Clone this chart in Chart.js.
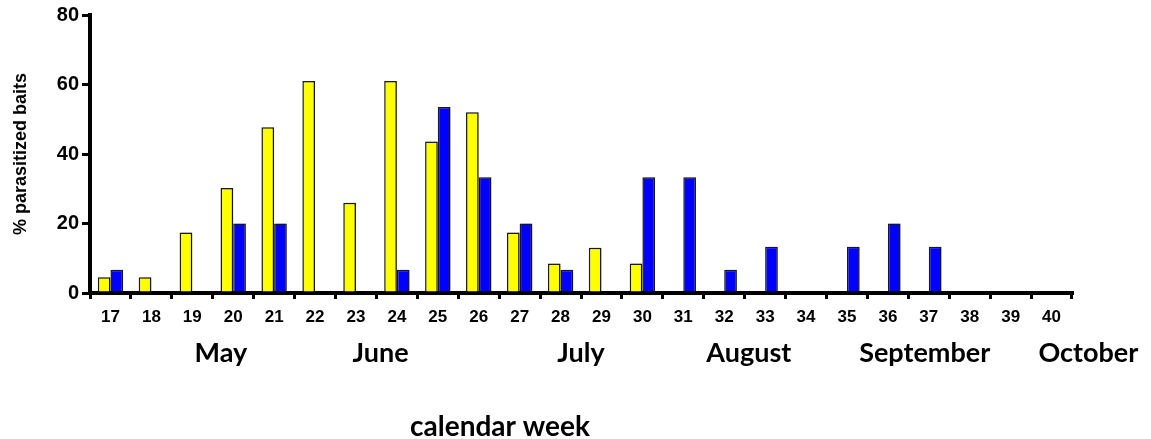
<!DOCTYPE html>
<html>
<head>
<meta charset="utf-8">
<script src="https://cdn.jsdelivr.net/npm/chart.js@4.4.1/dist/chart.umd.min.js"></script>
<style>
  html, body { margin: 0; padding: 0; background: #fff; }
  #wrap { width: 1151px; height: 439px; position: relative; }
</style>
</head>
<body>
<div id="wrap"><canvas id="myChart"></canvas></div>
<script>
// calendar weeks on the x axis
const weeks = ['17','18','19','20','21','22','23','24','25','26','27','28','29','30','31','32','33','34','35','36','37','38','39','40']

// % parasitized baits, yellow series
const yellowValues = [4.5, 4.5, 17.4, 30.2, 47.7, 61, 26, 61, 43.6, 52, 17.4, 8.5, 13, 8.5, 0, 0, 0, 0, 0, 0, 0, 0, 0, 0]
// % parasitized baits, blue series
const blueValues = [6.7, 0, 0, 20, 20, 0, 0, 6.7, 53.5, 33.3, 20, 6.7, 0, 33.3, 33.3, 6.7, 13.3, 0, 13.3, 20, 13.3, 0, 0, 0]

const yTicks = [0, 20, 40, 60, 80]

// month names and the (fractional) week index they sit under
const months = ['May', 'June', 'July', 'August', 'September', 'October']
const monthAt = [2.7, 6.6, 11.5, 15.6, 19.9, 23.9]

// soft grey shadow to the right of the bars
const barShadow = {
  id: 'barShadow',
  beforeDatasetsDraw(chart) {
    const c = chart.ctx
    c.save()
    c.shadowColor = 'rgba(0,0,0,0.3)'
    c.shadowBlur = 3
    c.shadowOffsetX = 2
    c.shadowOffsetY = 0
  },
  afterDatasetsDraw(chart) {
    chart.ctx.restore()
  }
}

const monthLabels = {
  id: 'monthLabels',
  afterDraw(chart) {
    const c = chart.ctx
    const xs = chart.scales.x
    c.save()
    c.fillStyle = '#000'
    c.textAlign = 'center'
    c.textBaseline = 'middle'
    c.font = 'bold 27px Lato, "Open Sans", sans-serif'
    months.forEach((m, i) => {
      c.fillText(m, xs.getPixelForValue(monthAt[i]), 353)
    })
    c.font = 'bold 28px Lato, "Open Sans", sans-serif'
    c.fillText('calendar week', 500, 427)
    c.restore()
  }
}

const ctx = document.getElementById('myChart')
const myChart = new Chart(ctx, {
  type: 'bar',
  data: {
    labels: weeks,
    datasets: [{
      label: 'yellow',
      data: yellowValues,
      backgroundColor: '#ffff00',
      borderColor: '#1a1a1a',
      borderWidth: 1.5,
      borderSkipped: 'bottom'
    }, {
      label: 'blue',
      data: blueValues,
      backgroundColor: '#0000ff',
      borderColor: '#1a1a1a',
      borderWidth: 1.5,
      borderSkipped: 'bottom'
    }]
  },
  options: {
    responsive: true,
    maintainAspectRatio: false,
    animation: false,
    layout: { padding: { left: 0, right: 79, top: 15, bottom: 0 } },
    plugins: {
      legend: { display: false },
      tooltip: { enabled: false }
    },
    datasets: { bar: { categoryPercentage: 0.62, barPercentage: 1 } },
    scales: {
      x: {
        grid: { display: true, drawOnChartArea: false, color: '#000', lineWidth: 3, tickLength: 6, offset: true },
        border: { display: true, color: '#000', width: 4 },
        ticks: {
          color: '#000',
          font: { family: '"Liberation Sans", Arial, sans-serif', size: 17, weight: 'bold' },
          maxRotation: 0,
          autoSkip: false,
          padding: 8
        },
        afterFit(scale) { scale.height = 439 - 293 }
      },
      y: {
        min: 0,
        max: 80,
        afterBuildTicks(scale) { scale.ticks = yTicks.map(v => ({ value: v })) },
        grid: { display: true, drawOnChartArea: false, color: '#000', lineWidth: 3, tickLength: 8 },
        border: { display: true, color: '#000', width: 4 },
        ticks: {
          color: '#000',
          font: { family: '"Liberation Sans", Arial, sans-serif', size: 20, weight: 'bold' },
          padding: 3
        },
        title: {
          display: true,
          text: '% parasitized baits',
          color: '#000',
          font: { family: '"Liberation Sans", Arial, sans-serif', size: 18, weight: 'bold' },
          padding: { top: 10, bottom: 4 }
        },
        afterFit(scale) { scale.width = 90 }
      }
    }
  },
  plugins: [barShadow, monthLabels]
})
</script>
</body>
</html>
